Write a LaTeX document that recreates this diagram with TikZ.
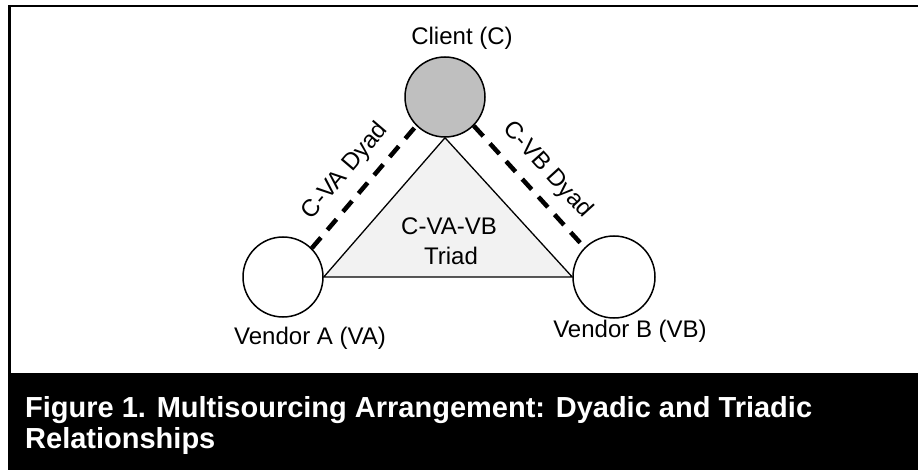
\documentclass[tikz,border=0pt]{standalone}
\usepackage{fontspec}
\setmainfont{Liberation Sans}
\begin{document}
\begin{tikzpicture}[x=1pt,y=-1pt,
  party/.style={circle, draw=black, line width=1.5pt, minimum size=80pt, inner sep=0pt},
  lbl/.style={font=\fontsize{24}{28}\selectfont, inner sep=0pt},
  dyad/.style={line width=4.5pt, dash pattern=on 14pt off 10pt},
  captext/.style={font=\bfseries\fontsize{29}{33}\selectfont, text=white, inner sep=0pt, anchor=base west}]
\useasboundingbox (0,0) rectangle (918,470);
\fill[white] (0,0) rectangle (918,470);
% frame
\draw[line width=2.5pt] (9.5,380) -- (9.5,6) -- (925,6);
\fill[black] (8,373) rectangle (918,470);
% nodes
\node[party, fill={rgb,255:red,191;green,191;blue,191}] (C) at (445,97) {};
\node[party, fill=white] (VA) at (283,277) {};
\node[party, fill=white, minimum size=82pt] (VB) at (614,277) {};
% triad
\filldraw[fill={rgb,255:red,242;green,242;blue,242}, draw=black, line width=1.3pt]
  (C.south) -- (VA.east) -- (VB.west) -- cycle;
\node[lbl, anchor=base] (tri1) at (449,235) {C-VA-VB};
\node[lbl, anchor=base] (tri2) at (451,265) {Triad};
% dyads
\draw[dyad] (VA.45) -- node[lbl, sloped, above=11pt, midway] (d1) {C-VA Dyad} (C.225);
\draw[dyad] (C.315) -- node[lbl, sloped, above=11pt, midway] (d2) {C-VB Dyad} (VB.135);
% labels
\node[lbl, anchor=base] (lc) at (462,45) {Client (C)};
\node[lbl, anchor=base] (lva) at (310,344) {Vendor A (VA)};
\node[lbl, anchor=base] (lvb) at (630,337) {Vendor B (VB)};
% caption
\node[captext] (cap1) at (25,417) {Figure 1. Multisourcing Arrangement: Dyadic and Triadic};
\node[captext] (cap2) at (25,448) {Relationships};
\end{tikzpicture}
\end{document}
